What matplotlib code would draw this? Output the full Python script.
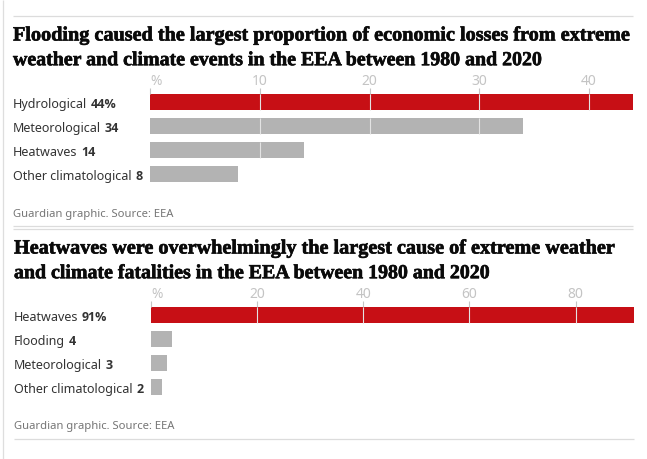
import matplotlib
matplotlib.use("Agg")
import matplotlib.pyplot as plt
import matplotlib.patheffects as pe

W, H = 647, 459
TITLE_FONT = "Liberation Serif"
LABEL_FONT = "Noto Sans"
BOLD_FONT = "Open Sans"
RED, GREY = "#c70f15", "#b3b3b3"
INK, TICK, RULE = "#333333", "#c4c4c4", "#dcdcdc"

title1 = ["Flooding caused the largest proportion of economic losses from extreme",
          "weather and climate events in the EEA between 1980 and 2020"]
cats1 = ["Hydrological", "Meteorological", "Heatwaves", "Other climatological"]
vals1 = [44, 34, 14, 8]
labels1 = ["44%", "34", "14", "8"]
ticks1 = [10, 20, 30, 40]

title2 = ["Heatwaves were overwhelmingly the largest cause of extreme weather",
          "and climate fatalities in the EEA between 1980 and 2020"]
cats2 = ["Heatwaves", "Flooding", "Meteorological", "Other climatological"]
vals2 = [91, 4, 3, 2]
labels2 = ["91%", "4", "3", "2"]
ticks2 = [20, 40, 60, 80]

source = "Guardian graphic. Source: EEA"

fig = plt.figure(figsize=(W / 100, H / 100), dpi=100, facecolor="white")
bg = fig.add_axes([0, 0, 1, 1])
bg.set_xlim(0, W)
bg.set_ylim(H, 0)
bg.axis("off")
renderer = fig.canvas.get_renderer()

TITLE_SIZES = [14.55, 14.32]
LABEL_SIZE = 9.0
BOLD_SIZE = 9.0
TICK_SIZE = 10.0
SOURCE_SIZE = 8.1


def px_axes(x0, x1, y0, y1):
    return fig.add_axes([x0 / W, 1 - y1 / H, (x1 - x0) / W, (y1 - y0) / H])


def panel(x_text, x0, x1, top, title, cats, vals, labels, ticks):
    for i, line in enumerate(title):
        bg.text(x_text, top + 1 + i * 24.7, line, family=TITLE_FONT, weight="bold",
                fontsize=TITLE_SIZES[i], color="#0a0a0a", va="center", ha="left",
                path_effects=[pe.withStroke(linewidth=0.45, foreground="#0a0a0a")])
    y_first = top + 59.5
    ax = px_axes(x0, x1, y_first, y_first + 88)
    ax.patch.set_alpha(0)
    ax.set_xlim(0, vals[0])
    ax.set_ylim(88, 0)
    ax.axis("off")
    for i, (v, c) in enumerate(zip(vals, cats)):
        ax.barh(8 + i * 24, v, height=16, color=RED if i == 0 else GREY, linewidth=0, zorder=1)
        yc = y_first + 10.5 + i * 24
        t = bg.text(x_text, yc, c, family=LABEL_FONT, fontsize=LABEL_SIZE,
                    color=INK, va="center", ha="left")
        ext = t.get_window_extent(renderer)
        bg.text(ext.x1 + 3.5, yc, labels[i], family=BOLD_FONT, fontsize=BOLD_SIZE, weight="bold",
                color=INK, va="center", ha="left")
    for tk in ticks:
        for i, v in enumerate(vals):
            if v > tk:
                ax.plot([tk, tk], [i * 24, 16 + i * 24], color="#e3e3e3", lw=0.8, zorder=2,
                        solid_capstyle="butt")
        ax.plot([tk, tk], [-6, 0], color=TICK, lw=0.8, clip_on=False, solid_capstyle="butt")
        ax.text(tk, -12.5, str(tk), ha="center", va="center", family=LABEL_FONT,
                fontsize=TICK_SIZE, color=TICK, clip_on=False)
    ax.plot([0, 0], [-6, 0], color=TICK, lw=0.8, clip_on=False, solid_capstyle="butt")
    ax.text(0, -12.5, "%", ha="left", va="center", family=LABEL_FONT,
            fontsize=TICK_SIZE, color=TICK, clip_on=False)
    bg.text(x_text, top + 179.5, source, family=LABEL_FONT, fontsize=SOURCE_SIZE,
            color="#767676", va="center", ha="left")


panel(13, 150, 633, 34.5, title1, cats1, vals1, labels1, ticks1)
panel(14, 151, 634, 247.5, title2, cats2, vals2, labels2, ticks2)

for y, x0, x1 in [(15.5, 13, 633), (225.5, 13, 633), (228.5, 13, 633), (438.5, 14, 634)]:
    bg.plot([x0, x1], [y, y], color=RULE, lw=0.9, solid_capstyle="butt")
bg.plot([2.5, 2.5], [0, H], color="#dedede", lw=0.9, solid_capstyle="butt")

fig.savefig("out.png", dpi=100, facecolor="white")
